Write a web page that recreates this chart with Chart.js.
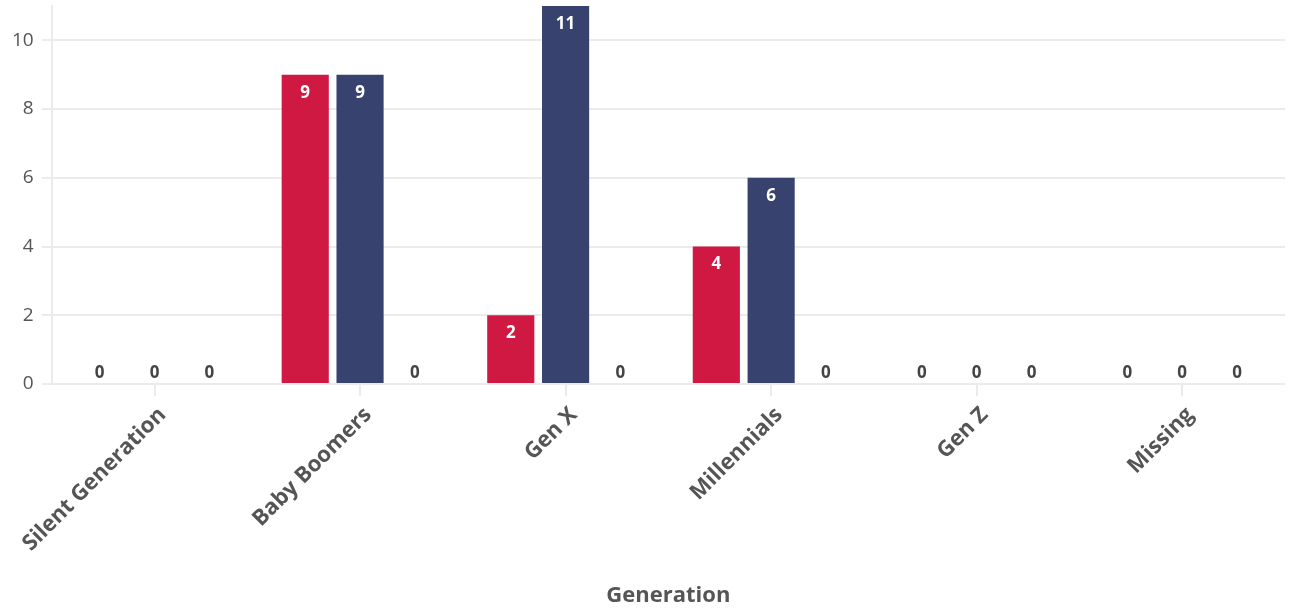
<!DOCTYPE html>
<html>
<head>
<meta charset="utf-8">
<script src="https://cdn.jsdelivr.net/npm/chart.js@4"></script>
<style>
  html, body { margin: 0; padding: 0; background: #fff; }
  #wrap { width: 1289px; height: 609px; }
</style>
</head>
<body>
<div id="wrap"><canvas id="genChart"></canvas></div>
<script>
  // --- data ---
  const categories = ['Silent Generation', 'Baby Boomers', 'Gen X', 'Millennials', 'Gen Z', 'Missing'];
  const seriesA = [0, 9, 2, 4, 0, 0];
  const seriesB = [0, 9, 11, 6, 0, 0];
  const seriesC = [0, 0, 0, 0, 0, 0];
  const yTicks = [0, 2, 4, 6, 8, 10];

  // value labels: white inside the bar, dark above zero
  const valueLabels = {
    id: 'valueLabels',
    afterDatasetsDraw(chart) {
      const ctx = chart.ctx;
      ctx.save();
      ctx.font = 'bold 17px "Open Sans"';
      ctx.textAlign = 'center';
      ctx.textBaseline = 'middle';
      chart.data.datasets.forEach((ds, i) => {
        chart.getDatasetMeta(i).data.forEach((bar, j) => {
          const v = ds.data[j];
          if (v === 0) {
            ctx.fillStyle = '#444';
            ctx.fillText(String(v), bar.x, bar.y - 11);
          } else {
            ctx.fillStyle = '#fff';
            ctx.fillText(String(v), bar.x, bar.y + 18);
          }
        });
      });
      ctx.restore();
    }
  };

  new Chart(document.getElementById('genChart'), {
    type: 'bar',
    data: {
      labels: categories,
      datasets: [
        { label: 'A', data: seriesA, backgroundColor: '#cf1942' },
        { label: 'B', data: seriesB, backgroundColor: '#37426f' },
        { label: 'C', data: seriesC, backgroundColor: '#9aa0a6' }
      ]
    },
    options: {
      responsive: true,
      maintainAspectRatio: false,
      animation: false,
      categoryPercentage: 0.8,
      barPercentage: 0.86,
      layout: { padding: { top: 6, right: 4, left: 4, bottom: 0 } },
      plugins: {
        legend: { display: false },
        tooltip: { enabled: false }
      },
      scales: {
        y: {
          min: 0,
          max: 11,
          afterBuildTicks: function (axis) {
            axis.ticks = yTicks.map(v => ({ value: v }));
          },
          // no extra room above the top of the bars
          afterFit: function (axis) {
            axis.paddingTop = 0;
          },
          ticks: {
            color: '#555',
            font: { family: '"Open Sans"', size: 19 },
            padding: 8
          },
          grid: {
            color: '#ebebeb',
            lineWidth: 2,
            tickLength: 10,
            tickColor: '#ebebeb'
          },
          border: { color: '#ebebeb', width: 2 }
        },
        x: {
          // fixed room under the plot for rotated labels and title
          afterFit: function (axis) {
            axis.height = 225;
          },
          ticks: {
            color: '#555',
            font: { family: '"Open Sans"', size: 22, weight: 'bold' },
            maxRotation: 45,
            minRotation: 45,
            padding: 6,
            labelOffset: 8
          },
          grid: {
            display: true,
            drawOnChartArea: false,
            offset: false,
            color: '#ebebeb',
            lineWidth: 2,
            tickLength: 12
          },
          border: { display: false },
          title: {
            display: true,
            text: 'Generation',
            color: '#555',
            font: { family: '"Open Sans"', size: 22, weight: 'bold' },
            padding: { top: 14, bottom: 0 }
          }
        }
      }
    },
    plugins: [valueLabels]
  });
</script>
</body>
</html>
